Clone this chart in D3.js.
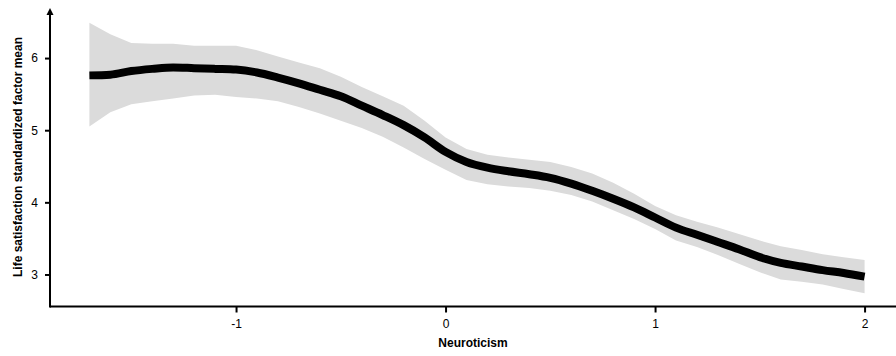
<!DOCTYPE html>
<html>
<head>
<meta charset="utf-8">
<script src="https://cdn.jsdelivr.net/npm/d3@7"></script>
<style>
  body { margin: 0; background: #fff; }
  svg { display: block; font-family: "Liberation Sans", Arial, sans-serif; }
</style>
</head>
<body>
<div id="chart"></div>
<script>
const neuroticism = [
  -1.7, -1.6, -1.5, -1.4, -1.3, -1.2, -1.1, -1.0, -0.9, -0.8,
  -0.7, -0.6, -0.5, -0.4, -0.3, -0.2, -0.1, 0.0, 0.1, 0.2,
  0.3, 0.4, 0.5, 0.6, 0.7, 0.8, 0.9, 1.0, 1.1, 1.2,
  1.3, 1.4, 1.5, 1.6, 1.7, 1.8, 1.9, 2.0,
];
const meanValues = [
  5.76, 5.77, 5.82, 5.85, 5.87, 5.86, 5.85, 5.84, 5.80, 5.73,
  5.65, 5.56, 5.47, 5.34, 5.21, 5.07, 4.90, 4.70, 4.56, 4.48,
  4.43, 4.39, 4.34, 4.26, 4.16, 4.05, 3.93, 3.79, 3.65, 3.55,
  3.45, 3.35, 3.24, 3.16, 3.11, 3.06, 3.02, 2.97,
];
const upperValues = [
  6.49, 6.33, 6.21, 6.20, 6.20, 6.17, 6.17, 6.17, 6.11, 6.02,
  5.94, 5.86, 5.74, 5.60, 5.47, 5.34, 5.13, 4.90, 4.74, 4.66,
  4.62, 4.59, 4.56, 4.49, 4.40, 4.27, 4.12, 3.95, 3.82, 3.73,
  3.65, 3.56, 3.47, 3.39, 3.34, 3.28, 3.24, 3.20,
];
const lowerValues = [
  5.05, 5.25, 5.36, 5.40, 5.44, 5.48, 5.49, 5.46, 5.44, 5.40,
  5.32, 5.23, 5.13, 5.03, 4.91, 4.76, 4.60, 4.45, 4.31, 4.25,
  4.22, 4.20, 4.16, 4.10, 4.01, 3.89, 3.77, 3.63, 3.47, 3.38,
  3.27, 3.15, 3.03, 2.93, 2.90, 2.86, 2.80, 2.74,
];
const xTicks = [-1, 0, 1, 2];
const yTicks = [3, 4, 5, 6];

const WIDTH = 896;
const HEIGHT = 356;
const AXIS_LEFT = 50;
const AXIS_BOTTOM = 306.5;
const AXIS_TOP = 8;

const x = d3.scaleLinear([-1.888, 2.15], [AXIS_LEFT, WIDTH]);
const y = d3.scaleLinear([2.556, 6.694], [AXIS_BOTTOM, AXIS_TOP]);

const rows = neuroticism.map((n, i) => ({
  n,
  mean: meanValues[i],
  upper: upperValues[i],
  lower: lowerValues[i],
}));

const svg = d3.select('#chart')
  .append('svg')
  .attr('width', WIDTH)
  .attr('height', HEIGHT);

// confidence band
svg.append('path')
  .datum(rows)
  .attr('fill', '#dbdbdb')
  .attr('d', d3.area()
    .x((d) => x(d.n))
    .y0((d) => y(d.lower))
    .y1((d) => y(d.upper)));

// fitted line
svg.append('path')
  .datum(rows)
  .attr('fill', 'none')
  .attr('stroke', '#000')
  .attr('stroke-width', 8)
  .attr('d', d3.line()
    .x((d) => x(d.n))
    .y((d) => y(d.mean))
    .curve(d3.curveMonotoneX));

// axes (hyphen, not unicode minus, as in the original)
const plainNumber = (d) => String(d);
const xAxisG = svg.append('g')
  .attr('transform', `translate(0, ${AXIS_BOTTOM})`)
  .call(d3.axisBottom(x).tickValues(xTicks).tickSize(6).tickPadding(7).tickFormat(plainNumber));
const yAxisG = svg.append('g')
  .attr('transform', `translate(${AXIS_LEFT}, 0)`)
  .call(d3.axisLeft(y).tickValues(yTicks).tickSize(5).tickPadding(7).tickFormat(plainNumber));

[xAxisG, yAxisG].forEach((g) => {
  g.select('.domain').remove();
  g.selectAll('line').attr('stroke', '#000').attr('stroke-width', 2);
  g.selectAll('text')
    .attr('fill', '#000')
    .style('font-size', '12px')
    .style('font-family', '"Liberation Sans", Arial, sans-serif');
});

svg.append('line')
  .attr('x1', AXIS_LEFT).attr('x2', WIDTH)
  .attr('y1', AXIS_BOTTOM).attr('y2', AXIS_BOTTOM)
  .attr('stroke', '#000').attr('stroke-width', 2);
svg.append('line')
  .attr('x1', AXIS_LEFT).attr('x2', AXIS_LEFT)
  .attr('y1', AXIS_TOP + 4).attr('y2', AXIS_BOTTOM + 1)
  .attr('stroke', '#000').attr('stroke-width', 2);
svg.append('path')
  .attr('d', `M${AXIS_LEFT},${AXIS_TOP} L${AXIS_LEFT - 3.5},${AXIS_TOP + 7} L${AXIS_LEFT + 3.5},${AXIS_TOP + 7} Z`)
  .attr('fill', '#000');

// titles
svg.append('text')
  .attr('x', (AXIS_LEFT + WIDTH) / 2)
  .attr('y', 347)
  .attr('text-anchor', 'middle')
  .style('font-size', '12px')
  .style('font-weight', 'bold')
  .text('Neuroticism');

svg.append('text')
  .attr('transform', `translate(22, 157) rotate(-90)`)
  .attr('text-anchor', 'middle')
  .style('font-size', '12px')
  .style('font-weight', 'bold')
  .text('Life satisfaction standardized factor mean');
</script>
</body>
</html>
